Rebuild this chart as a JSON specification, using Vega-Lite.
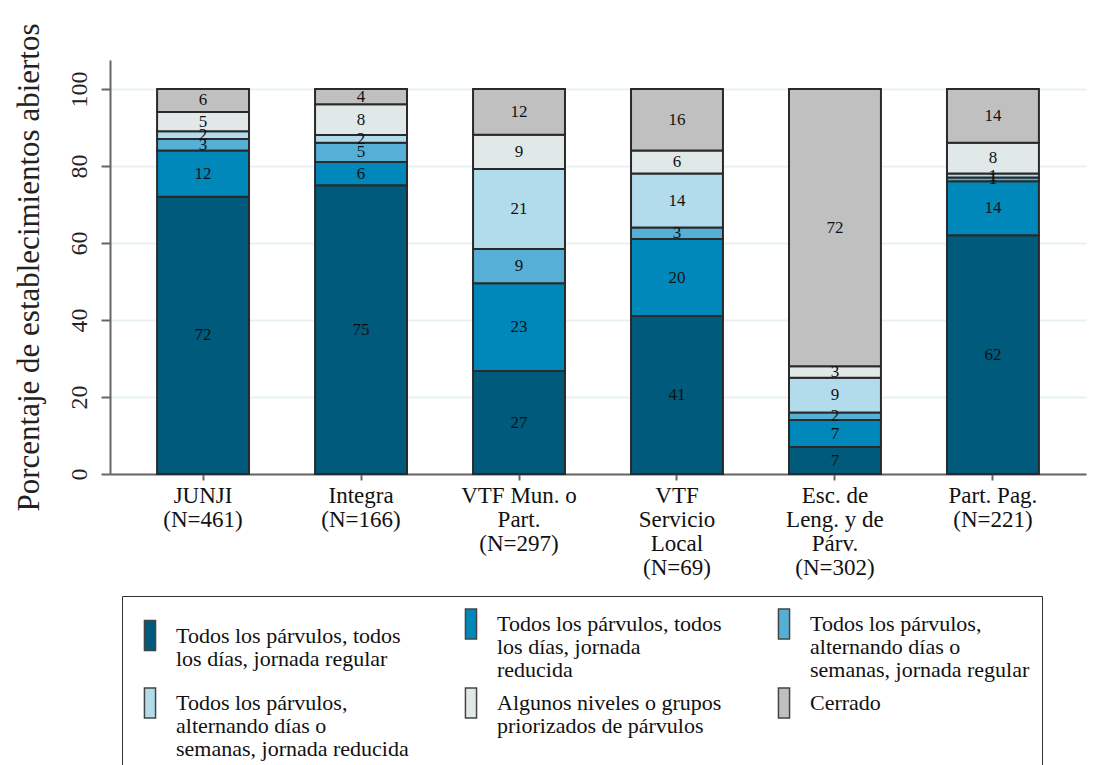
{
  "$schema": "https://vega.github.io/schema/vega-lite/v6.json",
  "width": 976,
  "height": 414,
  "autosize": "none",
  "padding": {"left": 110, "top": 60, "right": 7, "bottom": 291},
  "background": "white",
  "config": {
    "font": "Liberation Serif",
    "axis": {"labelFont": "Liberation Serif", "titleFont": "Liberation Serif"},
    "legend": {"labelFont": "Liberation Serif", "titleFont": "Liberation Serif"},
    "text": {"font": "Liberation Serif"},
    "view": {"stroke": null}
  },
  "data": {
    "values": [
      {"grupo": "JUNJI|(N=461)", "estado": "Todos los párvulos, todos|los días, jornada regular", "valor": 72},
      {"grupo": "JUNJI|(N=461)", "estado": "Todos los párvulos, todos|los días, jornada|reducida", "valor": 12},
      {"grupo": "JUNJI|(N=461)", "estado": "Todos los párvulos,|alternando días o|semanas, jornada regular", "valor": 3},
      {"grupo": "JUNJI|(N=461)", "estado": "Todos los párvulos,|alternando días o|semanas, jornada reducida", "valor": 2},
      {"grupo": "JUNJI|(N=461)", "estado": "Algunos niveles o grupos|priorizados de párvulos", "valor": 5},
      {"grupo": "JUNJI|(N=461)", "estado": "Cerrado", "valor": 6},
      {"grupo": "Integra|(N=166)", "estado": "Todos los párvulos, todos|los días, jornada regular", "valor": 75},
      {"grupo": "Integra|(N=166)", "estado": "Todos los párvulos, todos|los días, jornada|reducida", "valor": 6},
      {"grupo": "Integra|(N=166)", "estado": "Todos los párvulos,|alternando días o|semanas, jornada regular", "valor": 5},
      {"grupo": "Integra|(N=166)", "estado": "Todos los párvulos,|alternando días o|semanas, jornada reducida", "valor": 2},
      {"grupo": "Integra|(N=166)", "estado": "Algunos niveles o grupos|priorizados de párvulos", "valor": 8},
      {"grupo": "Integra|(N=166)", "estado": "Cerrado", "valor": 4},
      {"grupo": "VTF Mun. o|Part.|(N=297)", "estado": "Todos los párvulos, todos|los días, jornada regular", "valor": 27},
      {"grupo": "VTF Mun. o|Part.|(N=297)", "estado": "Todos los párvulos, todos|los días, jornada|reducida", "valor": 23},
      {"grupo": "VTF Mun. o|Part.|(N=297)", "estado": "Todos los párvulos,|alternando días o|semanas, jornada regular", "valor": 9},
      {"grupo": "VTF Mun. o|Part.|(N=297)", "estado": "Todos los párvulos,|alternando días o|semanas, jornada reducida", "valor": 21},
      {"grupo": "VTF Mun. o|Part.|(N=297)", "estado": "Algunos niveles o grupos|priorizados de párvulos", "valor": 9},
      {"grupo": "VTF Mun. o|Part.|(N=297)", "estado": "Cerrado", "valor": 12},
      {"grupo": "VTF|Servicio|Local|(N=69)", "estado": "Todos los párvulos, todos|los días, jornada regular", "valor": 41},
      {"grupo": "VTF|Servicio|Local|(N=69)", "estado": "Todos los párvulos, todos|los días, jornada|reducida", "valor": 20},
      {"grupo": "VTF|Servicio|Local|(N=69)", "estado": "Todos los párvulos,|alternando días o|semanas, jornada regular", "valor": 3},
      {"grupo": "VTF|Servicio|Local|(N=69)", "estado": "Todos los párvulos,|alternando días o|semanas, jornada reducida", "valor": 14},
      {"grupo": "VTF|Servicio|Local|(N=69)", "estado": "Algunos niveles o grupos|priorizados de párvulos", "valor": 6},
      {"grupo": "VTF|Servicio|Local|(N=69)", "estado": "Cerrado", "valor": 16},
      {"grupo": "Esc. de|Leng. y de|Párv.|(N=302)", "estado": "Todos los párvulos, todos|los días, jornada regular", "valor": 7},
      {"grupo": "Esc. de|Leng. y de|Párv.|(N=302)", "estado": "Todos los párvulos, todos|los días, jornada|reducida", "valor": 7},
      {"grupo": "Esc. de|Leng. y de|Párv.|(N=302)", "estado": "Todos los párvulos,|alternando días o|semanas, jornada regular", "valor": 2},
      {"grupo": "Esc. de|Leng. y de|Párv.|(N=302)", "estado": "Todos los párvulos,|alternando días o|semanas, jornada reducida", "valor": 9},
      {"grupo": "Esc. de|Leng. y de|Párv.|(N=302)", "estado": "Algunos niveles o grupos|priorizados de párvulos", "valor": 3},
      {"grupo": "Esc. de|Leng. y de|Párv.|(N=302)", "estado": "Cerrado", "valor": 72},
      {"grupo": "Part. Pag.|(N=221)", "estado": "Todos los párvulos, todos|los días, jornada regular", "valor": 62},
      {"grupo": "Part. Pag.|(N=221)", "estado": "Todos los párvulos, todos|los días, jornada|reducida", "valor": 14},
      {"grupo": "Part. Pag.|(N=221)", "estado": "Todos los párvulos,|alternando días o|semanas, jornada regular", "valor": 1},
      {"grupo": "Part. Pag.|(N=221)", "estado": "Todos los párvulos,|alternando días o|semanas, jornada reducida", "valor": 1},
      {"grupo": "Part. Pag.|(N=221)", "estado": "Algunos niveles o grupos|priorizados de párvulos", "valor": 8},
      {"grupo": "Part. Pag.|(N=221)", "estado": "Cerrado", "valor": 14}
    ]
  },
  "transform": [
    {"calculate": "indexof(['Todos los párvulos, todos|los días, jornada regular','Todos los párvulos, todos|los días, jornada|reducida','Todos los párvulos,|alternando días o|semanas, jornada regular','Todos los párvulos,|alternando días o|semanas, jornada reducida','Algunos niveles o grupos|priorizados de párvulos','Cerrado'], datum.estado)", "as": "orden"},
    {"stack": "valor", "groupby": ["grupo"], "sort": [{"field": "orden", "order": "ascending"}], "offset": "normalize", "as": ["y0", "y1"]},
    {"calculate": "(datum.y0 + datum.y1) / 2", "as": "ymid"}
  ],
  "encoding": {
    "x": {
      "field": "grupo",
      "type": "nominal",
      "sort": ["JUNJI|(N=461)", "Integra|(N=166)", "VTF Mun. o|Part.|(N=297)", "VTF|Servicio|Local|(N=69)", "Esc. de|Leng. y de|Párv.|(N=302)", "Part. Pag.|(N=221)"],
      "scale": {"paddingInner": 0.418, "paddingOuter": 0.298},
      "axis": {
        "title": null,
        "labelExpr": "split(datum.label, '|')",
        "labelAngle": 0,
        "labelFont": "Liberation Serif",
        "labelFontSize": 23,
        "labelLineHeight": 24,
        "labelColor": "#111",
        "labelPadding": 4,
        "labelBaseline": "top",
        "labelLimit": 300,
        "domainColor": "#666",
        "domainWidth": 2,
        "tickColor": "#666",
        "tickWidth": 2,
        "tickSize": 6
      }
    }
  },
  "layer": [
    {
      "mark": {"type": "bar", "stroke": "#2a2a2a", "strokeWidth": 2},
      "encoding": {
        "y": {
          "field": "y0",
          "type": "quantitative",
          "scale": {"domain": [0, 1.075], "nice": false},
          "axis": {
            "title": "Porcentaje de establecimientos abiertos",
            "titleFont": "Liberation Serif",
            "titleFontSize": 31,
            "titleFontWeight": "normal",
            "titleColor": "#222",
            "titlePadding": 22,
            "values": [0, 0.2, 0.4, 0.6, 0.8, 1],
            "labelExpr": "format(datum.value * 100, 'd')",
            "labelAngle": -90,
            "labelFont": "Liberation Serif",
            "labelFontSize": 24,
            "labelColor": "#222",
            "labelPadding": 10,
            "domainColor": "#666",
            "domainWidth": 2,
            "tickColor": "#666",
            "tickWidth": 2,
            "tickSize": 9,
            "grid": true,
            "gridColor": "#e8f1f1",
            "gridWidth": 2
          }
        },
        "y2": {"field": "y1"},
        "color": {
          "field": "estado",
          "type": "nominal",
          "scale": {
            "domain": ["Todos los párvulos, todos|los días, jornada regular", "Todos los párvulos, todos|los días, jornada|reducida", "Todos los párvulos,|alternando días o|semanas, jornada regular", "Todos los párvulos,|alternando días o|semanas, jornada reducida", "Algunos niveles o grupos|priorizados de párvulos", "Cerrado"],
            "range": ["#005a7c", "#0088bb", "#56b0d5", "#b2dcec", "#e1e8e8", "#c0c0c0"]
          },
          "legend": {
            "title": null,
            "orient": "none",
            "legendX": 12,
            "legendY": 536,
            "direction": "horizontal",
            "columns": 3,
            "gridAlign": "each",
            "columnPadding": 46,
            "rowPadding": 4,
            "padding": 12,
            "strokeColor": "#333",
            "fillColor": "white",
            "symbolType": "M-0.37,-1L0.37,-1L0.37,1L-0.37,1Z",
            "symbolSize": 900,
            "symbolStrokeColor": "#444",
            "symbolStrokeWidth": 1.5,
            "symbolOpacity": 1,
            "labelExpr": "split(datum.label, '|')",
            "labelFont": "Liberation Serif",
            "labelFontSize": 22,
            "labelColor": "#111",
            "labelLimit": 400,
            "labelOffset": 10,
            "labelBaseline": "middle",
            "encode": {"labels": {"update": {"lineHeight": {"value": 23}}}}
          }
        }
      }
    },
    {
      "mark": {"type": "text", "font": "Liberation Serif", "fontSize": 17, "color": "#111", "baseline": "middle"},
      "encoding": {
        "y": {"field": "ymid", "type": "quantitative"},
        "text": {"field": "valor", "type": "quantitative"}
      }
    }
  ]
}
